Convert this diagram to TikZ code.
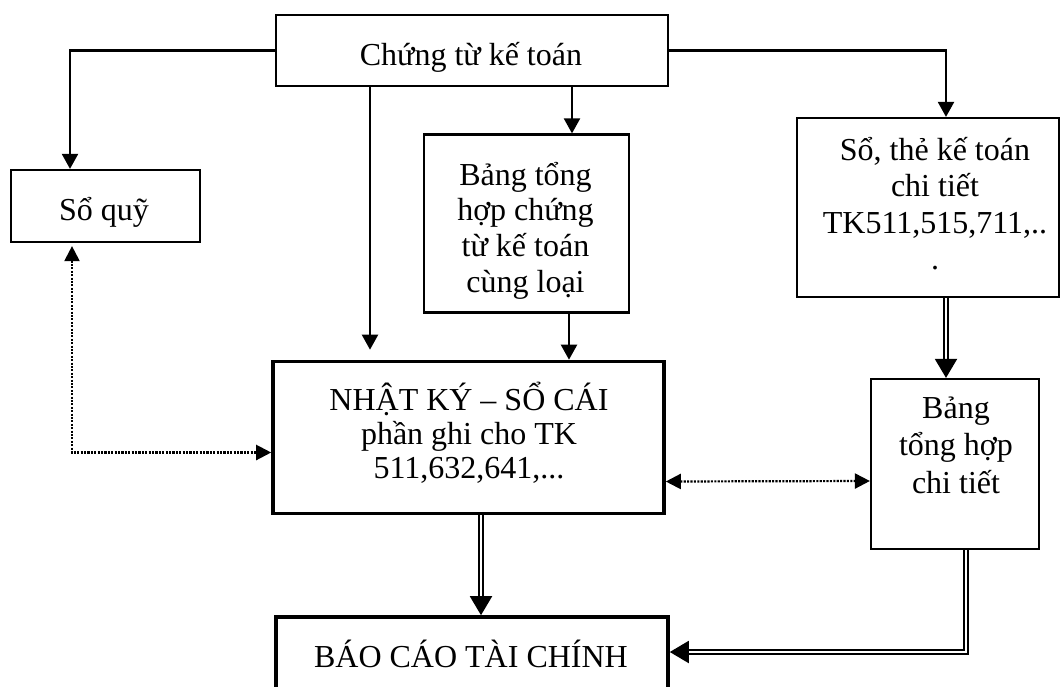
\documentclass[tikz,border=0pt]{standalone}
\usepackage{fontspec}
\setmainfont{Liberation Serif}
\usetikzlibrary{arrows.meta}
% centred block of lines whose reference point is the first baseline
\newcommand\cellTxt[2]{\parbox[t]{320pt}{\centering\fontsize{32}{#1}\selectfont #2}}
\begin{document}
\begin{tikzpicture}[x=1pt,y=-1pt,
  box/.style={draw, line width=2.2pt, inner sep=0pt},
  thickbox/.style={box, line width=3.6pt},
  txt/.style={anchor=base, inner sep=0pt},
  arr/.style={line width=2.2pt, -{Triangle[length=15pt,width=16pt]}},
  dotarr/.style={line width=2.2pt, dash pattern=on 2.1pt off 1.3pt,
    {Triangle[length=15pt,width=15pt]}-{Triangle[length=15pt,width=15pt]}},
  dbl/.style={line width=2pt, double distance=2.6pt},
  bigtip/.style={line width=2pt, -{Triangle[length=19pt,width=22pt]}}
]
\useasboundingbox (0,0) rectangle (1061,686);
\clip (0,0) rectangle (1061,686);

% frames
\node[box, minimum width=392pt, minimum height=71pt] (ct) at (472,50.5) {};
\node[box, minimum width=189pt, minimum height=72pt] (sq) at (105.5,206) {};
\node[box, minimum width=205pt, minimum height=178pt] (bth) at (526.5,223.5) {};
\node[box, minimum width=262pt, minimum height=179pt] (stk) at (928,207.5) {};
\node[thickbox, minimum width=391pt, minimum height=152pt] (nk) at (468.5,437.5) {};
\node[box, minimum width=168pt, minimum height=170pt] (btct) at (955,464) {};
\node[thickbox, minimum width=392pt, minimum height=80pt] (bc) at (472,657) {};

% texts, placed on their first baseline
\node[txt] (ct-t) at (471,65) {\cellTxt{36}{Chứng từ kế toán}};
\node[txt] (sq-t) at (104,220) {\cellTxt{36}{Sổ quỹ}};
\node[txt] (bth-t) at (525.5,185) {\cellTxt{35.7}{Bảng tổng\\hợp chứng\\từ kế toán\\cùng loại}};
\node[txt] (stk-t) at (935,160) {\cellTxt{36.6}{Sổ, thẻ kế toán\\chi tiết\\TK511,515,711,..\\.}};
\node[txt] (nk-t) at (469,410) {\cellTxt{34}{NHẬT KÝ – SỔ CÁI\\phần ghi cho TK\\511,632,641,...}};
\node[txt] (btct-t) at (956,418) {\cellTxt{37.5}{Bảng\\tổng hợp\\chi tiết}};
\node[txt] (bc-t) at (471,667) {\cellTxt{36}{BÁO CÁO TÀI CHÍNH}};

% plain arrows from the source documents
\draw[arr] (ct.west) -| ([xshift=-35.5pt]sq.north);
\draw[arr, shorten >=10pt] ([xshift=-102pt]ct.south) -- ([xshift=-98.5pt]nk.north);
\draw[arr] ([xshift=100pt]ct.south) -- ([xshift=45.5pt]bth.north);
\draw[arr] ([xshift=42.5pt]bth.south) -- ([xshift=100.5pt]nk.north);
\draw[arr] (ct.east) -| ([xshift=18pt]stk.north);

% cross-checking (dotted, two-way)
\draw[dotarr] ([xshift=-33.5pt,yshift=-3pt]sq.south) |- ([yshift=-15pt]nk.west);
\draw[dotarr] ([yshift=-44pt]nk.east) -- ([yshift=-17pt]btct.west);

% double lines into summaries and reports
\draw[dbl, shorten >=17pt] ([xshift=18pt]stk.south) -- ([xshift=-9pt]btct.north);
\draw[bigtip] ([xshift=-9pt,yshift=19pt]btct.north) -- ([xshift=-9pt]btct.north);

\draw[dbl, shorten >=17pt] ([xshift=12.5pt]nk.south) -- ([xshift=9pt]bc.north);
\draw[bigtip] ([xshift=9pt,yshift=19pt]bc.north) -- ([xshift=9pt]bc.north);

\draw[dbl, shorten >=17pt] ([xshift=11pt]btct.south) |- ([yshift=5pt]bc.east);
\draw[bigtip] ([xshift=19pt,yshift=5pt]bc.east) -- ([yshift=5pt]bc.east);
\end{tikzpicture}
\end{document}
